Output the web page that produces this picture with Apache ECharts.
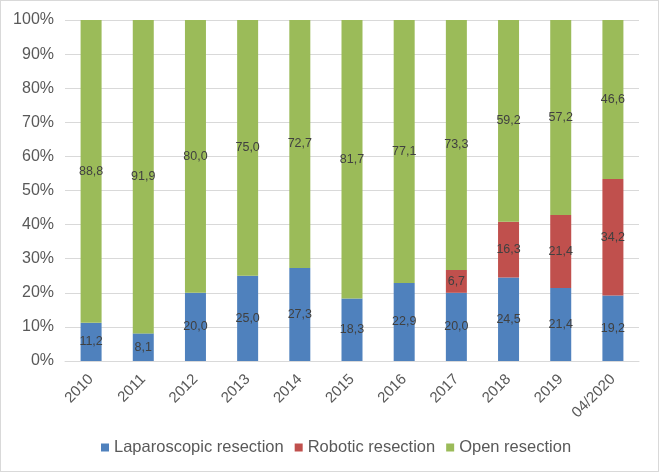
<!DOCTYPE html>
<html><head><meta charset="utf-8">
<script src="https://cdn.jsdelivr.net/npm/echarts@6/dist/echarts.min.js"></script>
<style>
html,body{margin:0;padding:0;background:#fff;}
#c{width:659px;height:472px;box-sizing:border-box;border:1px solid #d9d9d9;}
</style></head>
<body><div id="c"></div>
<script>
const categories = ['2010','2011','2012','2013','2014','2015','2016','2017','2018','2019','04/2020'];
const laparoscopic = [11.2, 8.1, 20.0, 25.0, 27.3, 18.3, 22.9, 20.0, 24.5, 21.4, 19.2];
const robotic = [0, 0, 0, 0, 0, 0, 0, 6.7, 16.3, 21.4, 34.2];
const openRes = [88.8, 91.9, 80.0, 75.0, 72.7, 81.7, 77.1, 73.3, 59.2, 57.2, 46.6];
const yTicks = [0,10,20,30,40,50,60,70,80,90,100];

const font = 'Liberation Sans, Arial, sans-serif';
const chart = echarts.init(document.getElementById('c'), null, {renderer:'canvas'});
function mk(name, data, color){
  return {
    name, type:'bar', stack:'total', barWidth:21, data: data.map(v => v === 0 ? null : v),
    itemStyle:{color},
    label:{show:true, position:'inside', color:'#404040', fontFamily:font, fontSize:12.5,
      formatter: p => p.value.toFixed(1).replace('.', ',')}
  };
}
chart.setOption({
  animation:false,
  grid:{left:64, right:19, top:19, bottom:110, containLabel:false},
  legend:{bottom:10, left:95, itemWidth:8, itemHeight:8, itemGap:11, icon:'rect',
    textStyle:{color:'#595959', fontFamily:font, fontSize:16.5}},
  xAxis:{type:'category', data:categories,
    axisLine:{lineStyle:{color:'#d9d9d9'}}, axisTick:{show:false},
    axisLabel:{rotate:45, color:'#595959', fontFamily:font, fontSize:15, margin:16, interval:0}},
  yAxis:{type:'value', min:0, max:100, interval:10,
    axisLabel:{color:'#595959', fontFamily:font, fontSize:16, margin:11, formatter: v => v + '%'},
    splitLine:{lineStyle:{color:'#d9d9d9'}}, axisLine:{show:false}},
  series:[
    mk('Laparoscopic resection', laparoscopic, '#4F81BD'),
    mk('Robotic resection', robotic, '#C0504D'),
    mk('Open resection', openRes, '#9BBB59')
  ]
});
</script></body></html>
